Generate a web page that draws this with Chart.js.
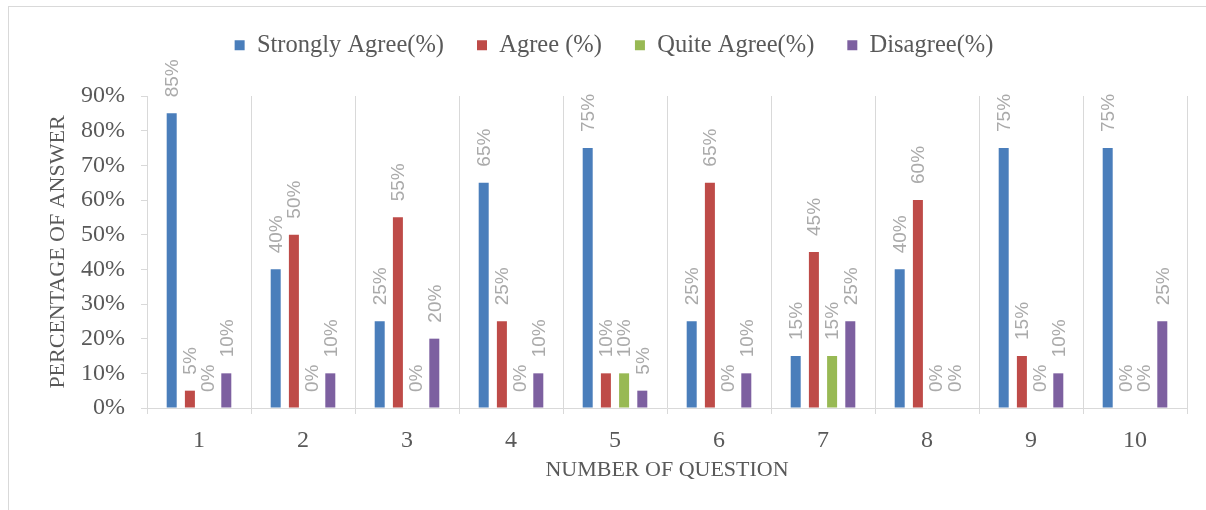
<!DOCTYPE html>
<html><head><meta charset="utf-8">
<script src="https://cdn.jsdelivr.net/npm/chart.js@4"></script>
<style>
html,body{margin:0;padding:0;background:#fff;overflow:hidden;}
#wrap{position:absolute;left:0;top:0;width:1206px;height:510px;overflow:hidden;}
#frame{position:absolute;left:8px;top:6px;width:1300px;height:600px;border:1px solid #d9d9d9;box-sizing:border-box;}
canvas{position:absolute;left:0;top:0;}
</style></head>
<body><div id="wrap"><div id="frame"></div><canvas id="c" width="1206" height="510"></canvas></div>
<script>
const categories = ["1","2","3","4","5","6","7","8","9","10"];
const stronglyAgree = [85,40,25,65,75,25,15,40,75,75];
const agree = [5,50,55,25,10,65,45,60,15,0];
const quiteAgree = [0,0,0,0,10,0,15,0,0,0];
const disagree = [10,10,20,10,5,10,25,0,10,25];
const yTicks = [0,10,20,30,40,50,60,70,80,90];
const seriesNames = ["Strongly Agree(%)","Agree (%)","Quite Agree(%)","Disagree(%)"];
const colors = ["#4A7EBB","#BE4B48","#98B954","#7D60A0"];

const legendHeightPlugin = {
  id:'legendHeight',
  beforeInit(chart){
    const lg = chart.legend;
    if(!lg) return;
    const orig = lg.fit;
    lg.fit = function(){ orig.call(this); this.height = 96; };
  }
};

const labelPlugin = {
  id:'vlabels',
  afterDatasetsDraw(chart){
    const ctx = chart.ctx;
    ctx.save();
    ctx.font = '19px "Liberation Sans", sans-serif';
    ctx.fillStyle = '#aaaaaa';
    ctx.textAlign = 'left';
    ctx.textBaseline = 'middle';
    chart.data.datasets.forEach((ds,i)=>{
      const meta = chart.getDatasetMeta(i);
      meta.data.forEach((bar,j)=>{
        ctx.save();
        ctx.translate(bar.x+1, bar.y-16);
        ctx.rotate(-Math.PI/2);
        ctx.fillText(ds.data[j]+'%',0,0);
        ctx.restore();
      });
    });
    ctx.restore();
  }
};

new Chart(document.getElementById('c'),{
  type:'bar',
  data:{
    labels:categories,
    datasets:[
      {label:seriesNames[0],data:stronglyAgree,backgroundColor:colors[0]},
      {label:seriesNames[1],data:agree,backgroundColor:colors[1]},
      {label:seriesNames[2],data:quiteAgree,backgroundColor:colors[2]},
      {label:seriesNames[3],data:disagree,backgroundColor:colors[3]}
    ]
  },
  options:{
    responsive:false,
    animation:false,
    devicePixelRatio:1,
    categoryPercentage:0.70,
    barPercentage:0.55,
    layout:{padding:{left:41,right:19,top:0,bottom:23}},
    plugins:{
      legend:{
        position:'top',
        labels:{boxWidth:10,boxHeight:10,color:'#595959',padding:33,
          font:{family:'"Liberation Serif", serif',size:24.5}}
      },
      tooltip:{enabled:false}
    },
    scales:{
      x:{
        grid:{offset:true,color:'#d9d9d9',tickLength:6,drawTicks:true},
        border:{color:'#d9d9d9'},
        ticks:{color:'#595959',font:{family:'"Liberation Serif", serif',size:24},padding:12},
        title:{display:true,text:'NUMBER OF QUESTION',color:'#595959',
          font:{family:'"Liberation Serif", serif',size:22},padding:{top:4,bottom:4}},
        afterFit(s){ s.height = 79; }
      },
      y:{
        min:0,max:90,
        afterBuildTicks(s){ s.ticks = yTicks.map(v=>({value:v})); },
        grid:{drawOnChartArea:false,color:'#d9d9d9',tickLength:6},
        border:{color:'#d9d9d9'},
        ticks:{color:'#595959',font:{family:'"Liberation Serif", serif',size:24},
          callback:v=>v+'%',padding:16},
        title:{display:true,text:'PERCENTAGE OF ANSWER',color:'#595959',
          font:{family:'"Liberation Serif", serif',size:22},padding:{top:4,bottom:4}},
        afterFit(s){ s.width = 106; }
      }
    }
  },
  plugins:[legendHeightPlugin,labelPlugin]
});
</script></body></html>
